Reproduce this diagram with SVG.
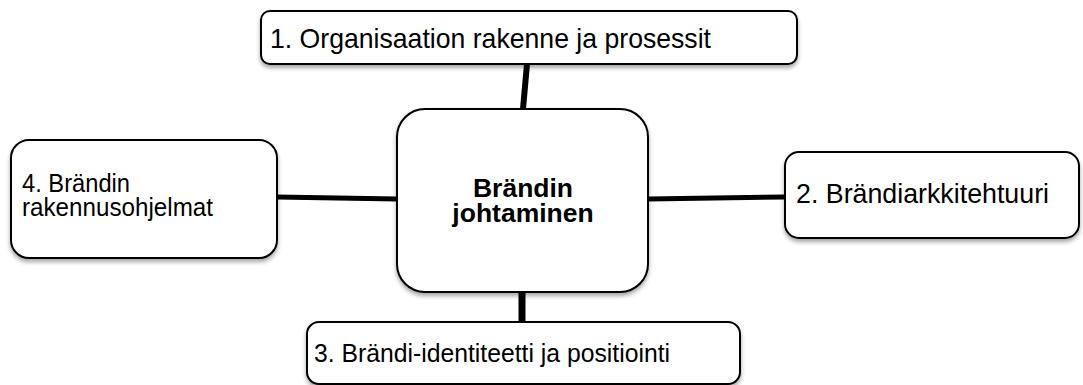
<svg xmlns="http://www.w3.org/2000/svg" width="1083" height="385" viewBox="0 0 1083 385">
  <style>
    .box { fill: #ffffff; stroke: #000000; stroke-width: 2; filter: url(#shadow); }
    .lbl { font-family: "Liberation Sans", Arial, sans-serif; fill: #000000; }
    .hub { font-family: "Liberation Sans", Arial, sans-serif; font-weight: bold; fill: #000000; text-anchor: middle; }
    .link { stroke: #000000; fill: none; stroke-linecap: butt; }
  </style>
  <defs>
    <filter id="shadow" x="-10%" y="-10%" width="120%" height="130%">
      <feDropShadow dx="0" dy="3" stdDeviation="2" flood-color="#000000" flood-opacity="0.35"/>
    </filter>
  </defs>
  <rect width="1083" height="385" fill="#ffffff"/>

  <!-- connectors from the hub to each topic -->
  <g id="connectors">
    <line class="link" x1="527" y1="64" x2="523" y2="109" stroke-width="6"/>
    <line class="link" x1="648" y1="199" x2="785" y2="197" stroke-width="5"/>
    <line class="link" x1="522" y1="292" x2="522" y2="322" stroke-width="7"/>
    <line class="link" x1="277" y1="197" x2="397" y2="199" stroke-width="5"/>
  </g>

  <g id="hub">
    <rect class="box" x="397" y="109" width="251" height="183" rx="28" ry="28"/>
    <text class="hub" x="523" y="197" font-size="26.5">Brändin</text>
    <text class="hub" x="523" y="222" font-size="26.5">johtaminen</text>
  </g>

  <g id="topic1">
    <rect class="box" x="261" y="11" width="536" height="53" rx="9" ry="9"/>
    <text class="lbl" x="270" y="48" font-size="28" textLength="441" lengthAdjust="spacingAndGlyphs">1. Organisaation rakenne ja prosessit</text>
  </g>

  <g id="topic2">
    <rect class="box" x="785" y="152" width="294" height="86" rx="14" ry="14"/>
    <text class="lbl" x="796" y="203" font-size="27.5" textLength="253" lengthAdjust="spacingAndGlyphs">2. Brändiarkkitehtuuri</text>
  </g>

  <g id="topic3">
    <rect class="box" x="307" y="322" width="433" height="62" rx="12" ry="12"/>
    <text class="lbl" x="314" y="362" font-size="26" textLength="356" lengthAdjust="spacingAndGlyphs">3. Brändi-identiteetti ja positiointi</text>
  </g>

  <g id="topic4">
    <rect class="box" x="11" y="140" width="266" height="118" rx="18" ry="18"/>
    <text class="lbl" x="22" y="192" font-size="25" textLength="108" lengthAdjust="spacingAndGlyphs">4. Brändin</text>
    <text class="lbl" x="22" y="216" font-size="25" textLength="191" lengthAdjust="spacingAndGlyphs">rakennusohjelmat</text>
  </g>
</svg>
